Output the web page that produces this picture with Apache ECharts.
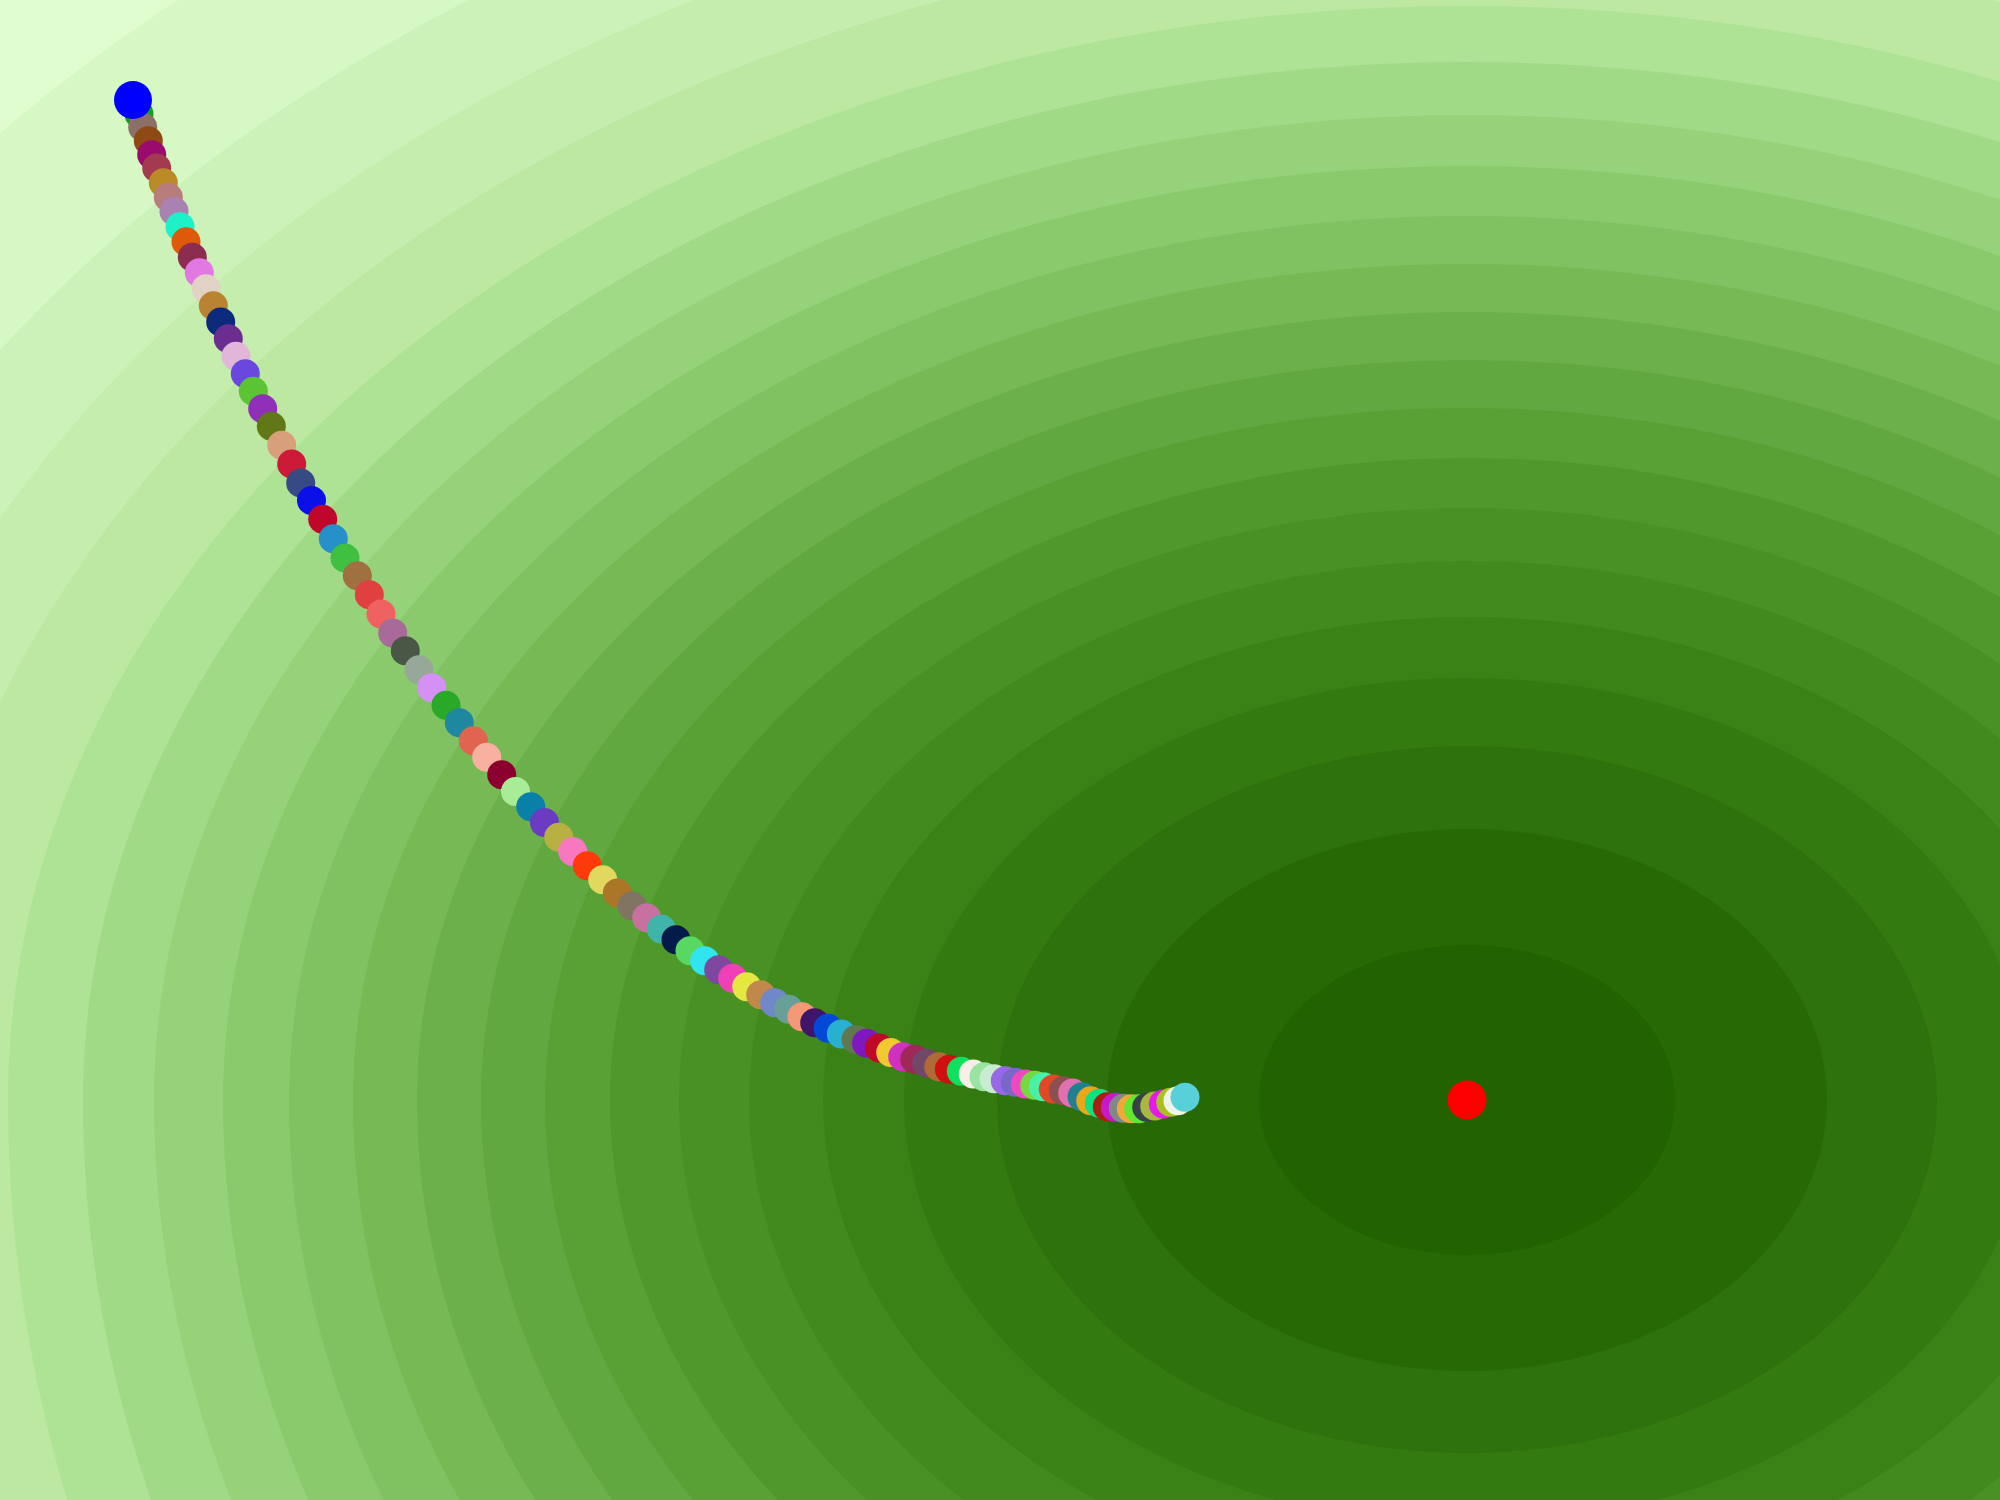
<!DOCTYPE html>
<html>
<head>
<meta charset="utf-8">
<script src="https://cdn.jsdelivr.net/npm/echarts@6/dist/echarts.min.js"></script>
<style>
html,body{margin:0;padding:0;background:#e0fdd0;}
#chart{width:2000px;height:1500px;}
</style>
</head>
<body>
<div id="chart"></div>
<script>
// ---- Contour levels (outer -> inner), in data units ----
const minimumPoint = [1467, 1100];
const startPoint = [133, 100];
const levelRadiusX = [1954, 1776, 1660, 1560, 1459, 1384, 1313, 1244, 1178, 1114, 1050, 986, 922, 857, 788, 718, 644, 563, 470, 360, 208];
const levelRadiusUp = [1464, 1330, 1243, 1168, 1094, 1038, 985, 934, 884, 836, 788, 740, 692, 642, 592, 539, 483, 422, 354, 271, 155];
const levelRadiusDown = [2100, 1900, 1750, 1580, 1417, 1290, 1183, 1098, 1018, 937, 867, 802, 736, 673, 617, 561, 489, 425, 353, 271, 155];
const levelColors = ['#d6f8c4', '#cdf2b9', '#c5edae', '#bce8a2', '#aee295', '#a1da87', '#96d279', '#8bca6c', '#80c161', '#76b955', '#6bb04a', '#61a840', '#58a134', '#4f992b', '#479222', '#418a1e', '#3b8216', '#337a10', '#2d720c', '#276a05', '#226200'];
const outerColor = '#e0fdd0';

// ---- Descent trajectory ----
const trajX = [139, 142.7, 148.3, 151.7, 156.7, 163.3, 168.3, 174, 180, 186, 192.3, 199.3, 206, 213.3, 220.7, 228.3, 236, 245.3, 253.3, 262.7, 271.3, 281.7, 291.7, 300.7, 311.5, 322.7, 333.3, 345, 357.3, 369.3, 381, 392.7, 405.3, 419, 431.7, 446, 459.3, 473.3, 486.7, 501.7, 515.5, 530.7, 544.5, 558.7, 572.7, 587.3, 602.7, 617.3, 632, 646.7, 661.3, 676, 690, 704.7, 718.7, 732.7, 746.7, 760.7, 774.7, 788.7, 802, 814.7, 828, 841.3, 856, 866.5, 879.3, 890.7, 902.7, 914.7, 926.7, 938.7, 949.3, 961.3, 973.3, 984, 994, 1005.3, 1015.3, 1025.3, 1034.7, 1043.3, 1053.3, 1063.3, 1072.7, 1082, 1090.7, 1099.3, 1107.3, 1115.3, 1123.3, 1131.3, 1138.7, 1146.7, 1154.7, 1163.3, 1170.7, 1178, 1185];
const trajY = [114, 127.3, 140.7, 154.7, 168, 182.7, 197.3, 211.3, 226.7, 241.7, 257.3, 272.7, 288.7, 305.7, 322, 338.7, 356.3, 373.7, 391.3, 408.7, 426.3, 445.3, 464, 483, 500.5, 519.3, 538.7, 558, 575.7, 594.7, 614, 633, 650.7, 669.7, 687.7, 705.3, 722.7, 740.7, 757.3, 774.7, 791.5, 806.7, 822.5, 837.3, 851.5, 865.7, 879.7, 893, 906, 917.7, 929, 939.7, 950.7, 960.7, 969.7, 978.3, 986.7, 994.7, 1002.7, 1009.3, 1016.7, 1022.7, 1028.3, 1034, 1039.5, 1043.3, 1048, 1052.5, 1056.7, 1059.3, 1063.3, 1066.7, 1069.3, 1071.3, 1074, 1076.7, 1078.7, 1080.7, 1082.3, 1084, 1085.3, 1086.7, 1089, 1090.7, 1093, 1096.7, 1100.7, 1103.3, 1106.7, 1107.3, 1108.3, 1108.7, 1108.7, 1107.3, 1106, 1104, 1102.3, 1100.7, 1097.3];
const trajColors = ['#1a9a1a', '#8c7068', '#8e4a12', '#9a0b6d', '#a33a50', '#b98a25', '#b97c7c', '#a882b0', '#1ef0c8', '#dd5a08', '#8b2c50', '#e278e2', '#e2d2c5', '#b98332', '#0c2a7c', '#6b2e90', '#e2b6d8', '#6a48e0', '#5cc432', '#9030b8', '#627818', '#d8a07a', '#cc1a38', '#384a84', '#0c10e8', '#c0062a', '#2690c8', '#40c040', '#a07040', '#e04040', '#f06262', '#a86a98', '#4a5646', '#98a898', '#d490f4', '#2aa828', '#1e88a0', '#e06450', '#f8b0a0', '#8c0030', '#a8ec98', '#0880a8', '#6a3cc4', '#b8b040', '#f878c0', '#ff3a0a', '#e2d860', '#ac7628', '#827462', '#c870a0', '#40b4a8', '#041a48', '#58d860', '#30e4f0', '#7e48a0', '#f040b8', '#e4e840', '#c0884a', '#7088c8', '#68a098', '#f49878', '#401468', '#0448d8', '#28b0d0', '#607850', '#8018c0', '#c00828', '#f0c830', '#d030c0', '#a02858', '#704868', '#b06a38', '#d01010', '#10e060', '#f8f0e8', '#98e4a0', '#c8ecd0', '#9868e8', '#7868c8', '#f048c0', '#78d840', '#48f0a8', '#e04828', '#8c5050', '#e070b0', '#208090', '#e8a818', '#10e080', '#a82010', '#c818c8', '#808888', '#f0a838', '#60e830', '#384048', '#a8b840', '#e818f0', '#a8c020', '#f0f4e8', '#58d0d8'];

const contourData = levelRadiusX.map((a, i) => [minimumPoint[0], minimumPoint[1], a, levelRadiusUp[i], levelRadiusDown[i], i]);
const trajData = trajX.map((x, i) => [x, trajY[i]]);

const chart = echarts.init(document.getElementById('chart'), null, {renderer: 'canvas'});
chart.setOption({
  backgroundColor: outerColor,
  animation: false,
  grid: {left: 0, right: 0, top: 0, bottom: 0},
  xAxis: {type: 'value', min: 0, max: 2000, show: false},
  yAxis: {type: 'value', min: 0, max: 1500, inverse: true, show: false},
  series: [
    {
      type: 'custom',
      silent: true,
      clip: false,
      encode: {x: 0, y: 1},
      data: contourData,
      renderItem: function (params, api) {
        const c = api.coord([api.value(0), api.value(1)]);
        const up = api.size([api.value(2), api.value(3)]);
        const down = api.size([api.value(2), api.value(4)]);
        const a = up[0], bu = up[1], bd = down[1];
        const x = c[0], y = c[1];
        const d = 'M ' + (x - a) + ' ' + y +
          ' A ' + a + ' ' + bu + ' 0 0 1 ' + (x + a) + ' ' + y +
          ' A ' + a + ' ' + bd + ' 0 0 1 ' + (x - a) + ' ' + y + ' Z';
        return {
          type: 'path',
          shape: {pathData: d},
          style: {fill: levelColors[api.value(5)], stroke: null}
        };
      },
      z: 1
    },
    {
      type: 'scatter',
      silent: true,
      symbol: 'circle',
      symbolSize: 29,
      data: trajData,
      itemStyle: {color: function (p) { return trajColors[p.dataIndex]; }, opacity: 1},
      z: 3
    },
    {
      type: 'scatter',
      silent: true,
      symbol: 'circle',
      symbolSize: 38,
      data: [startPoint],
      itemStyle: {color: '#0000ff', opacity: 1},
      z: 4
    },
    {
      type: 'scatter',
      silent: true,
      symbol: 'circle',
      symbolSize: 39,
      data: [minimumPoint],
      itemStyle: {color: '#ff0000', opacity: 1},
      z: 4
    }
  ]
});
</script>
</body>
</html>
